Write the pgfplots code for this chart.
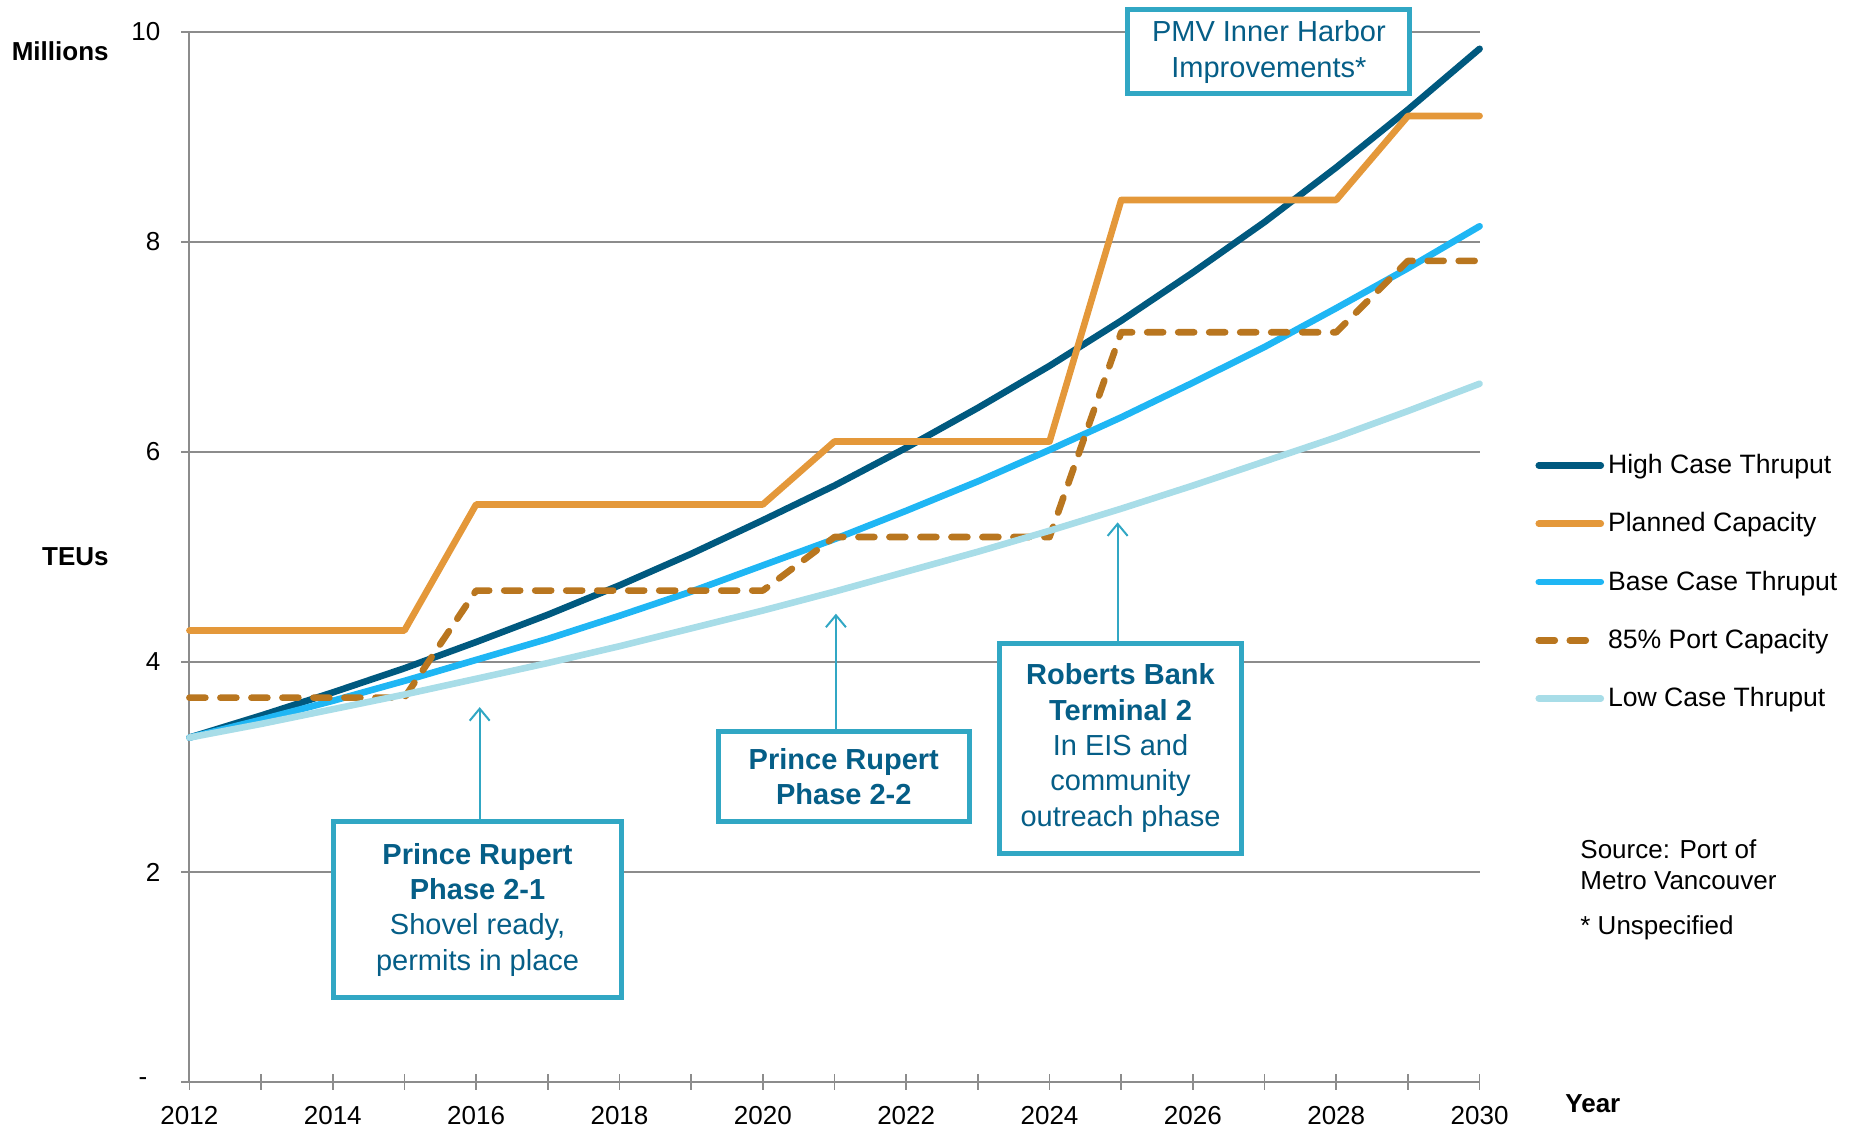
\documentclass[border=0pt]{standalone}
\usepackage{fontspec}
\setmainfont{Liberation Sans}
\usepackage{pgfplots}
\pgfplotsset{compat=1.18}
\usetikzlibrary{arrows.meta}

\definecolor{highc}{HTML}{00597F}
\definecolor{basec}{HTML}{1FB6F4}
\definecolor{lowc}{HTML}{A8DDE8}
\definecolor{planc}{HTML}{E4983A}
\definecolor{portc}{HTML}{B9761F}
\definecolor{boxc}{HTML}{31A7C4}
\definecolor{boxt}{HTML}{055E87}
\definecolor{gridc}{HTML}{8C8C8C}

\tikzset{
  annbox/.style={draw=boxc, line width=2.5pt, fill=white, text=boxt, align=center,
    font=\fontsize{14.5}{17.7}\selectfont, inner sep=0pt},
  annarrow/.style={boxc, line width=1pt, -{Straight Barb[length=6pt,width=10pt]}},
  serieslw/.style={line width=3.3pt, line cap=round, line join=round},
}

\begin{document}
\begin{tikzpicture}
\useasboundingbox (0,0) rectangle (928pt,563.5pt);
\begin{axis}[
  at={(94.7pt,22.5pt)}, anchor=south west,
  scale only axis, width=645.1pt, height=525pt,
  xmin=2012, xmax=2030, ymin=0, ymax=10,
  clip=false,
  axis x line=bottom, axis y line=left,
  axis line style={-, gridc, line width=1pt},
  xtick={2012,2014,...,2030}, minor xtick={2013,2015,...,2029},
  ytick={0,2,4,6,8,10}, yticklabels={-\rule{6.5pt}{0pt},2,4,6,8,10},
  tick align=center, major tick length=8pt, minor tick length=8pt,
  every tick/.style={gridc, line width=0.8pt},
  ymajorgrids, grid style={gridc, line width=0.8pt},
  /pgf/number format/1000 sep={},
  /pgf/number format/assume math mode=true,
  tick label style={font=\fontsize{13}{15}\selectfont, text=black},
  xticklabel style={anchor=center, yshift=-12.8pt},
  yticklabel style={anchor=east, xshift=-7pt},
  legend style={at={(1.043,0.602)}, anchor=north west, draw=none, fill=none,
    inner sep=0pt, row sep=14pt, font=\fontsize{13.3}{15}\selectfont,
    /tikz/every even column/.append style={column sep=0pt}},
  legend cell align=left,
  legend image code/.code={\draw[#1] (0pt,0pt) -- (31pt,0pt);},
]
\addplot[highc, serieslw] coordinates {
(2012,3.28) (2013,3.49) (2014,3.71) (2015,3.94) (2016,4.19) (2017,4.45) (2018,4.73)
(2019,5.03) (2020,5.35) (2021,5.68) (2022,6.04) (2023,6.42) (2024,6.82) (2025,7.25)
(2026,7.71) (2027,8.19) (2028,8.71) (2029,9.26) (2030,9.84)};
\addlegendentry{High Case Thruput}
\addplot[planc, serieslw] coordinates {
(2012,4.3) (2013,4.3) (2014,4.3) (2015,4.3) (2016,5.5) (2017,5.5) (2018,5.5)
(2019,5.5) (2020,5.5) (2021,6.1) (2022,6.1) (2023,6.1) (2024,6.1) (2025,8.4)
(2026,8.4) (2027,8.4) (2028,8.4) (2029,9.2) (2030,9.2)};
\addlegendentry{Planned Capacity}
\addplot[basec, serieslw] coordinates {
(2012,3.28) (2013,3.45) (2014,3.63) (2015,3.82) (2016,4.02) (2017,4.22) (2018,4.44)
(2019,4.67) (2020,4.92) (2021,5.17) (2022,5.44) (2023,5.72) (2024,6.02) (2025,6.33)
(2026,6.66) (2027,7.00) (2028,7.37) (2029,7.75) (2030,8.15)};
\addlegendentry{Base Case Thruput}
\addplot[portc, serieslw, dash pattern=on 8pt off 7.5pt] coordinates {
(2012,3.66) (2013,3.66) (2014,3.66) (2015,3.66) (2016,4.68) (2017,4.68) (2018,4.68)
(2019,4.68) (2020,4.68) (2021,5.19) (2022,5.19) (2023,5.19) (2024,5.19) (2025,7.14)
(2026,7.14) (2027,7.14) (2028,7.14) (2029,7.82) (2030,7.82)};
\addlegendentry{85\% Port Capacity}
\addplot[lowc, serieslw] coordinates {
(2012,3.28) (2013,3.41) (2014,3.55) (2015,3.69) (2016,3.84) (2017,3.99) (2018,4.15)
(2019,4.32) (2020,4.49) (2021,4.67) (2022,4.86) (2023,5.05) (2024,5.25) (2025,5.46)
(2026,5.68) (2027,5.91) (2028,6.14) (2029,6.39) (2030,6.65)};
\addlegendentry{Low Case Thruput}

\draw[annarrow] (axis cs:2016.05,2.48) -- (axis cs:2016.05,3.57);
\draw[annarrow] (axis cs:2021.02,3.34) -- (axis cs:2021.02,4.46);
\draw[annarrow] (axis cs:2024.95,4.18) -- (axis cs:2024.95,5.33);

\node[annbox, minimum width=141pt, minimum height=42pt] at (axis cs:2027.06,9.81)
  {PMV Inner Harbor\\Improvements*};
\node[annbox, minimum width=144pt, minimum height=88pt] at (axis cs:2016.02,1.64)
  {\textbf{Prince Rupert}\\\textbf{Phase 2-1}\\Shovel ready,\\permits in place};
\node[annbox, minimum width=125.5pt, minimum height=45pt] at (axis cs:2021.13,2.91)
  {\textbf{Prince Rupert}\\\textbf{Phase 2-2}};
\node[annbox, minimum width=121pt, minimum height=105pt] at (axis cs:2024.99,3.18)
  {\textbf{Roberts Bank}\\\textbf{Terminal 2}\\In EIS and\\community\\outreach phase};
\end{axis}

\node[anchor=east, inner sep=0pt, font=\bfseries\fontsize{13}{15}\selectfont] at (54.5pt,538pt) {Millions};
\node[anchor=east, inner sep=0pt, font=\bfseries\fontsize{13}{15}\selectfont] at (54.5pt,285pt) {TEUs};
\node[anchor=west, inner sep=0pt, font=\bfseries\fontsize{13}{15}\selectfont] at (782.5pt,11.5pt) {Year};
\node[anchor=west, inner sep=0pt, font=\fontsize{13}{15}\selectfont] at (790pt,139pt) {Source: Port of};
\node[anchor=west, inner sep=0pt, font=\fontsize{13}{15}\selectfont] at (790pt,123pt) {Metro Vancouver};
\node[anchor=west, inner sep=0pt, font=\fontsize{13}{15}\selectfont] at (790pt,99.5pt) {* Unspecified};
\end{tikzpicture}
\end{document}
